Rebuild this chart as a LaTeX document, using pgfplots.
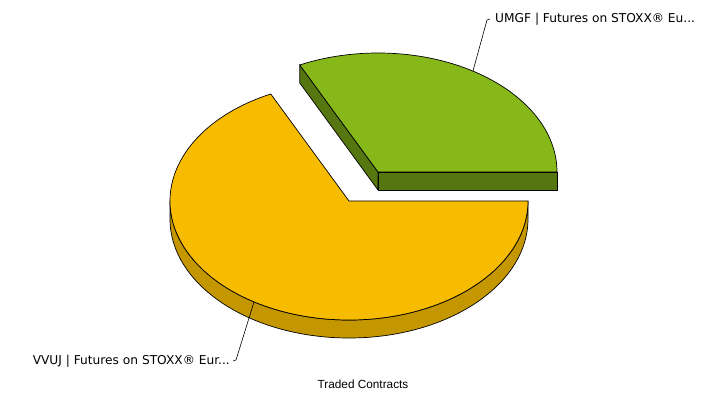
\documentclass[border=0pt]{standalone}
\usepackage{pgfplots}
\pgfplotsset{compat=1.18}
\usepackage{pgfplotstable}
\usepackage{fontspec}
\setmainfont{DejaVu Sans}
\newfontfamily\arialfont{Liberation Sans}

\definecolor{ytop}{HTML}{F7BB00}
\definecolor{yside}{HTML}{C49600}
\definecolor{gtop}{HTML}{86B819}
\definecolor{gside}{HTML}{567610}

% share of traded contracts, in percent
\pgfplotstableread{
label value
UMGF 32.2
VVUJ 67.8
}\pietable

\begin{document}
\begin{tikzpicture}
\pgfplotstablegetelem{0}{value}\of\pietable
\pgfmathsetmacro\split{3.6*\pgfplotsretval}
\pgfmathsetmacro\midA{\split/2}
\pgfmathsetmacro\midB{(\split+360)/2}
\def\rx{179}\def\ry{119}\def\dz{18}
\begin{axis}[
  x=1pt, y=1pt,
  xmin=0, xmax=718, ymin=0, ymax=394,
  scale only axis, hide axis, clip=false,
]
\path (0,0) rectangle (718,394);

% exploded green slice, centre (378,222)
\filldraw[gside, draw=black, line width=0.7pt]
  (378,222) -- (557,222) -- (557,222-\dz) -- (378,222-\dz) -- cycle;
\filldraw[gside, draw=black, line width=0.7pt]
  (378,222) -- ({378+\rx*cos(\split)},{222+\ry*sin(\split)})
  -- ({378+\rx*cos(\split)},{222-\dz+\ry*sin(\split)}) -- (378,222-\dz) -- cycle;
\filldraw[gtop, draw=black, line width=0.7pt]
  (378,222) -- (557,222)
  arc[start angle=0, end angle=\split, x radius=\rx, y radius=\ry] -- cycle;

% yellow slice, centre (349,193)
\filldraw[yside, draw=black, line width=0.7pt]
  (170,193) arc[start angle=180, end angle=360, x radius=\rx, y radius=\ry]
  -- ++(0,-\dz) arc[start angle=360, end angle=180, x radius=\rx, y radius=\ry] -- cycle;
\filldraw[ytop, draw=black, line width=0.7pt]
  (349,193) -- ({349+\rx*cos(\split)},{193+\ry*sin(\split)})
  arc[start angle=\split, end angle=360, x radius=\rx, y radius=\ry] -- cycle;

% labels
\draw[line width=0.6pt] ({378+\rx*cos(\midA)},{222+\ry*sin(\midA)}) -- (487,374) -- (490,375);
\node[anchor=base west, font=\fontsize{12.2}{14}\selectfont, inner sep=0pt] at (495,371)
  {UMGF | Futures on STOXX® Eu...};
\draw[line width=0.6pt] ({349+\rx*cos(\midB)},{193+\ry*sin(\midB)}) -- (236,34) -- (233,33);
\node[anchor=base east, font=\fontsize{12.2}{14}\selectfont, inner sep=0pt] at (230,30)
  {VVUJ | Futures on STOXX® Eur...};
\node[anchor=base, font=\arialfont\fontsize{11.8}{13}\selectfont, inner sep=0pt] at (363,6)
  {Traded Contracts};
\end{axis}
\end{tikzpicture}
\end{document}
